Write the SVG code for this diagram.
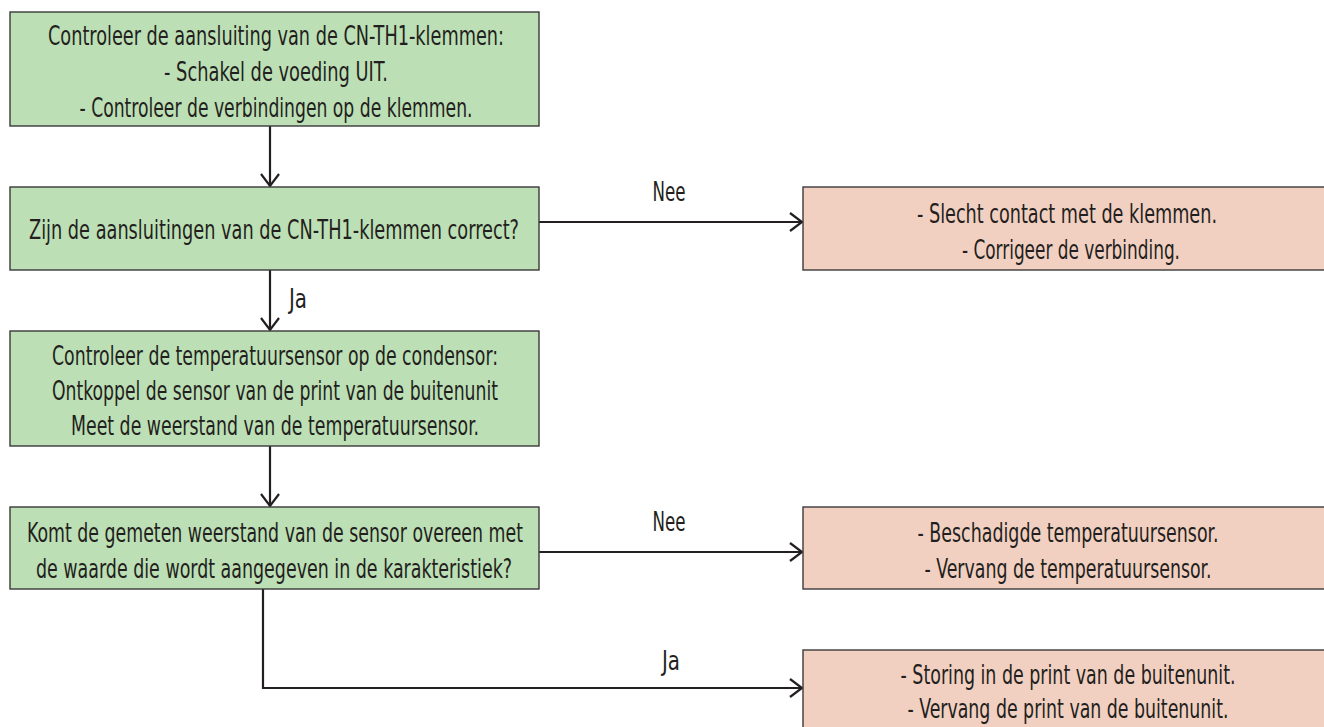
<svg xmlns="http://www.w3.org/2000/svg" width="1324" height="727" viewBox="0 0 1324 727">
<defs>
<style>
.g{fill:#bddfb5;stroke:#3a3a3a;stroke-width:1.4}
.p{fill:#f2d0c1;stroke:#3a3a3a;stroke-width:1.4}
text{font-family:"Liberation Sans Narrow","DejaVu Sans Condensed","Liberation Sans",sans-serif;font-size:26px;fill:#231f20;text-anchor:middle}
.c{fill:none;stroke:#231f20;stroke-width:2.2}
</style>
<marker id="ah" viewBox="0 0 15 20" refX="13" refY="10" markerWidth="15" markerHeight="20" markerUnits="userSpaceOnUse" orient="auto">
<path d="M1,1 L13,10 L1,19" fill="none" stroke="#231f20" stroke-width="2.2"/>
</marker>
</defs>
<rect width="1324" height="727" fill="#fff"/>
<g id="connectors">
<line class="c" x1="270" y1="126" x2="270" y2="186" marker-end="url(#ah)"/>
<line class="c" x1="539" y1="222" x2="802" y2="222" marker-end="url(#ah)"/>
<line class="c" x1="270" y1="270" x2="270" y2="330" marker-end="url(#ah)"/>
<line class="c" x1="270" y1="446" x2="270" y2="506" marker-end="url(#ah)"/>
<line class="c" x1="539" y1="552" x2="802" y2="552" marker-end="url(#ah)"/>
<polyline class="c" points="263,589 263,688 802,688" marker-end="url(#ah)"/>
<text x="669" y="201" textLength="33" lengthAdjust="spacingAndGlyphs">Nee</text>
<text x="298" y="308" textLength="18" lengthAdjust="spacingAndGlyphs">Ja</text>
<text x="669" y="531" textLength="33" lengthAdjust="spacingAndGlyphs">Nee</text>
<text x="671" y="670" textLength="18" lengthAdjust="spacingAndGlyphs">Ja</text>
</g>
<g id="n1">
<rect class="g" x="10" y="12" width="529" height="114"/>
<text x="276" y="45" textLength="456" lengthAdjust="spacingAndGlyphs">Controleer de aansluiting van de CN-TH1-klemmen:</text>
<text x="276" y="81" textLength="224" lengthAdjust="spacingAndGlyphs">- Schakel de voeding UIT.</text>
<text x="276" y="117" textLength="393" lengthAdjust="spacingAndGlyphs">- Controleer de verbindingen op de klemmen.</text>
</g>
<g id="n2">
<rect class="g" x="10" y="187" width="529" height="83"/>
<text x="274" y="239" textLength="490" lengthAdjust="spacingAndGlyphs">Zijn de aansluitingen van de CN-TH1-klemmen correct?</text>
</g>
<g id="n3">
<rect class="p" x="803" y="187" width="540" height="83"/>
<text x="1067" y="223" textLength="300" lengthAdjust="spacingAndGlyphs">- Slecht contact met de klemmen.</text>
<text x="1071" y="259" textLength="218" lengthAdjust="spacingAndGlyphs">- Corrigeer de verbinding.</text>
</g>
<g id="n4">
<rect class="g" x="10" y="331" width="529" height="115"/>
<text x="275" y="365" textLength="446" lengthAdjust="spacingAndGlyphs">Controleer de temperatuursensor op de condensor:</text>
<text x="275" y="400" textLength="446" lengthAdjust="spacingAndGlyphs">Ontkoppel de sensor van de print van de buitenunit</text>
<text x="275" y="435" textLength="408" lengthAdjust="spacingAndGlyphs">Meet de weerstand van de temperatuursensor.</text>
</g>
<g id="n5">
<rect class="g" x="10" y="507" width="529" height="82"/>
<text x="275" y="542" textLength="496" lengthAdjust="spacingAndGlyphs">Komt de gemeten weerstand van de sensor overeen met</text>
<text x="274" y="578" textLength="476" lengthAdjust="spacingAndGlyphs">de waarde die wordt aangegeven in de karakteristiek?</text>
</g>
<g id="n6">
<rect class="p" x="803" y="507" width="540" height="82"/>
<text x="1068" y="542" textLength="301" lengthAdjust="spacingAndGlyphs">- Beschadigde temperatuursensor.</text>
<text x="1068" y="578" textLength="287" lengthAdjust="spacingAndGlyphs">- Vervang de temperatuursensor.</text>
</g>
<g id="n7">
<rect class="p" x="803" y="650" width="540" height="100"/>
<text x="1068" y="684" textLength="335" lengthAdjust="spacingAndGlyphs">- Storing in de print van de buitenunit.</text>
<text x="1068" y="718" textLength="321" lengthAdjust="spacingAndGlyphs">- Vervang de print van de buitenunit.</text>
</g>
</svg>
